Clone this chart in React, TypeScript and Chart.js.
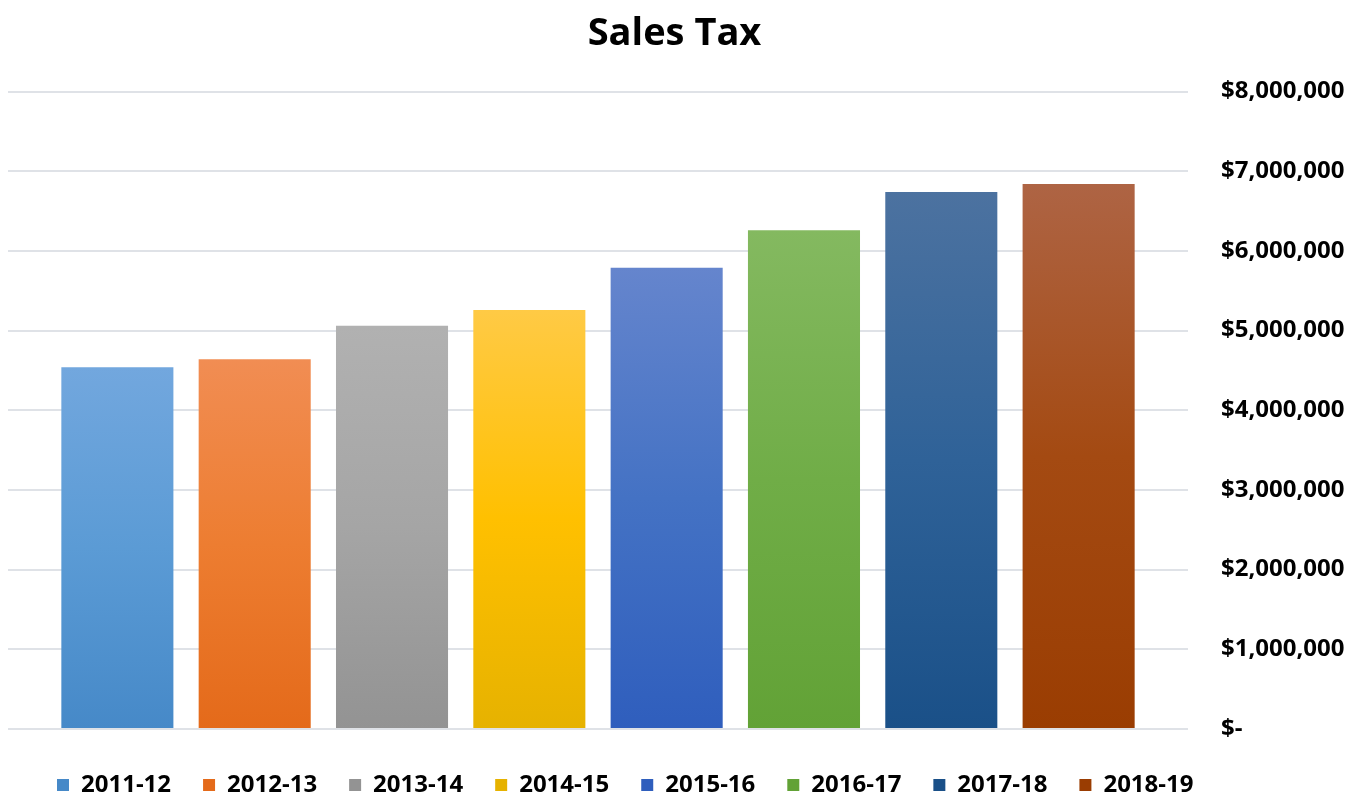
import React, { useEffect, useRef } from "react";
import { Chart, registerables } from "chart.js";

Chart.register(...registerables);

const fiscalYears = ["2011-12", "2012-13", "2013-14", "2014-15", "2015-16", "2016-17", "2017-18", "2018-19"];
const salesTax = [4540000, 4640000, 5060000, 5260000, 5790000, 6260000, 6740000, 6840000];
const topColors = ["#72A7DE", "#F18D53", "#B1B1B1", "#FFCA45", "#6585CD", "#84B960", "#4C72A0", "#AE6444"];
const baseColors = ["#5B9BD5", "#ED7D31", "#A5A5A5", "#FFC000", "#4472C4", "#70AD47", "#2F6298", "#A44A12"];
const bottomColors = ["#4689C8", "#E46A1A", "#939393", "#E6B200", "#2F5EBD", "#62A236", "#1A5088", "#9A3D02"];
const yMax = 8000000;
const yStep = 1000000;

const FONT = "'Open Sans', 'Noto Sans', sans-serif";

const blockShift = {
  id: "blockShift",
  afterLayout(chart: any) {
    const lg = chart.legend;
    if (lg) {
      lg.left += 17;
      lg.right += 17;
    }
    const tb = chart.titleBlock;
    if (tb) {
      tb.left -= 12;
      tb.right -= 12;
    }
  },
};

export default function App() {
  const canvasRef = useRef<HTMLCanvasElement | null>(null);

  useEffect(() => {
    document.body.style.margin = "0";
    const canvas = canvasRef.current;
    if (!canvas) return;

    const datasets = fiscalYears.map((year, i) => ({
      label: year,
      data: [salesTax[i]],
      borderWidth: 0,
      backgroundColor: (ctx: any) => {
        if (ctx.type !== "data") return baseColors[i];
        const chart = ctx.chart;
        const yScale = chart.scales && chart.scales.y;
        if (!chart.chartArea || !yScale) return baseColors[i];
        const top = yScale.getPixelForValue(ctx.raw);
        const bottom = yScale.getPixelForValue(0);
        if (!isFinite(top) || !isFinite(bottom) || top === bottom) return baseColors[i];
        const g = chart.ctx.createLinearGradient(0, top, 0, bottom);
        g.addColorStop(0, topColors[i]);
        g.addColorStop(0.5, baseColors[i]);
        g.addColorStop(1, bottomColors[i]);
        return g;
      },
    }));

    const chart = new Chart(canvas, {
      type: "bar",
      data: {
        labels: [""],
        datasets,
      },
      plugins: [blockShift],
      options: {
        animation: false,
        responsive: false,
        maintainAspectRatio: false,
        layout: { padding: { left: 8, right: 0, top: 5, bottom: -11 } },
        datasets: {
          bar: {
            categoryPercentage: 0.931,
            barPercentage: 0.816,
          },
        },
        plugins: {
          title: {
            display: true,
            text: "Sales Tax",
            color: "#000",
            font: { family: FONT, size: 38, weight: "bold" },
            padding: { top: 6, bottom: 35 },
          },
          legend: {
            position: "bottom",
            align: "start",
            labels: {
              color: "#000",
              boxWidth: 12,
              boxHeight: 12,
              padding: 32,
              font: { family: FONT, size: 24, weight: "bold" },
            },
          },
          tooltip: { enabled: false },
        },
        scales: {
          x: {
            display: true,
            grid: { display: false, drawTicks: false },
            border: { display: false },
            ticks: { display: false },
            afterFit: (s: any) => {
              s.height = 12;
            },
          },
          y: {
            position: "right",
            min: 0,
            max: yMax,
            ticks: {
              stepSize: yStep,
              color: "#000",
              padding: 33,
              font: { family: FONT, size: 24, weight: "bold" },
              callback: (v: any) => (Number(v) === 0 ? "$-" : "$" + Number(v).toLocaleString("en-US")),
            },
            grid: {
              color: "#DFE2E7",
              lineWidth: 2,
              drawTicks: false,
            },
            border: { display: false },
            afterFit: (s: any) => {
              s.width = 177;
            },
          },
        },
      },
    });

    return () => {
      chart.destroy();
    };
  }, []);

  return (
    <div style={{ width: 1365, height: 796 }}>
      <canvas ref={canvasRef} width={1365} height={796} />
    </div>
  );
}
